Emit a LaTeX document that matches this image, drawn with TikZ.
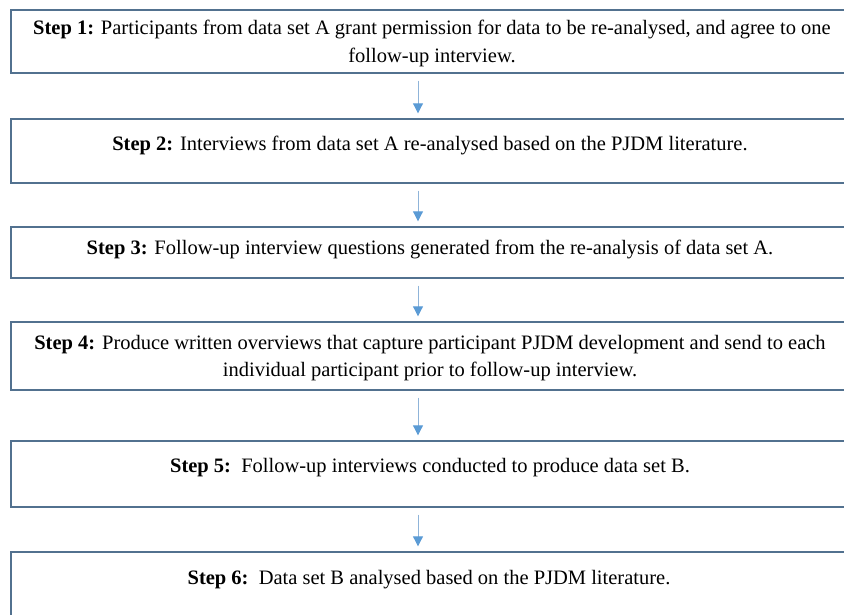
\documentclass[tikz,border=0pt]{standalone}
\usepackage{fontspec}
\setmainfont{Liberation Serif}
\usetikzlibrary{arrows.meta}
\definecolor{boxline}{HTML}{52718F}
\definecolor{arrowshaft}{HTML}{8FB4D9}
\definecolor{arrowhead}{HTML}{5B9BD5}
\begin{document}
\begin{tikzpicture}[x=1pt,y=-1pt,
  stepbox/.style={draw=boxline,line width=1.4pt,fill=white,minimum width=838pt,inner sep=0pt},
  steptext/.style={align=center,inner sep=0pt,font=\fontsize{20.5}{27.5}\selectfont},
  flow/.style={draw=arrowshaft,line width=1pt,
    -{Triangle[width=10pt,length=10pt,color=arrowhead,fill=arrowhead]},
    shorten <=7pt,shorten >=5pt}]
\useasboundingbox (0,0) rectangle (844,614);
\clip (0,0) rectangle (844,614);
% boxes
\node[stepbox,minimum height=63pt] (b1) at (430,41.5) {};
\node[stepbox,minimum height=64pt] (b2) at (430,151) {};
\node[stepbox,minimum height=51pt] (b3) at (430,252.5) {};
\node[stepbox,minimum height=68pt] (b4) at (430,356) {};
\node[stepbox,minimum height=66pt] (b5) at (430,474) {};
\node[stepbox,minimum height=70pt] (b6) at (430,587) {};
% texts
\node[steptext] (t1) at (432,43.5) {\textbf{Step 1:} Participants from data set A grant permission for data to be re-analysed, and agree to one\\follow-up interview.};
\node[steptext] (t2) at (430,145) {\textbf{Step 2:} Interviews from data set A re-analysed based on the PJDM literature.};
\node[steptext] (t3) at (430,249) {\textbf{Step 3:} Follow-up interview questions generated from the re-analysis of data set A.};
\node[steptext] (t4) at (430,358) {\textbf{Step 4:} Produce written overviews that capture participant PJDM development and send to each\\individual participant prior to follow-up interview.};
\node[steptext] (t5) at (430,468) {\textbf{Step 5:}\ \ Follow-up interviews conducted to produce data set B.};
\node[steptext] (t6) at (429,580) {\textbf{Step 6:}\ \ Data set B analysed based on the PJDM literature.};
% arrows
\foreach \a/\b in {b1/b2,b2/b3,b3/b4,b4/b5,b5/b6}
  \draw[flow] ([xshift=-12pt]\a.south) -- ([xshift=-12pt]\b.north);
\end{tikzpicture}
\end{document}
